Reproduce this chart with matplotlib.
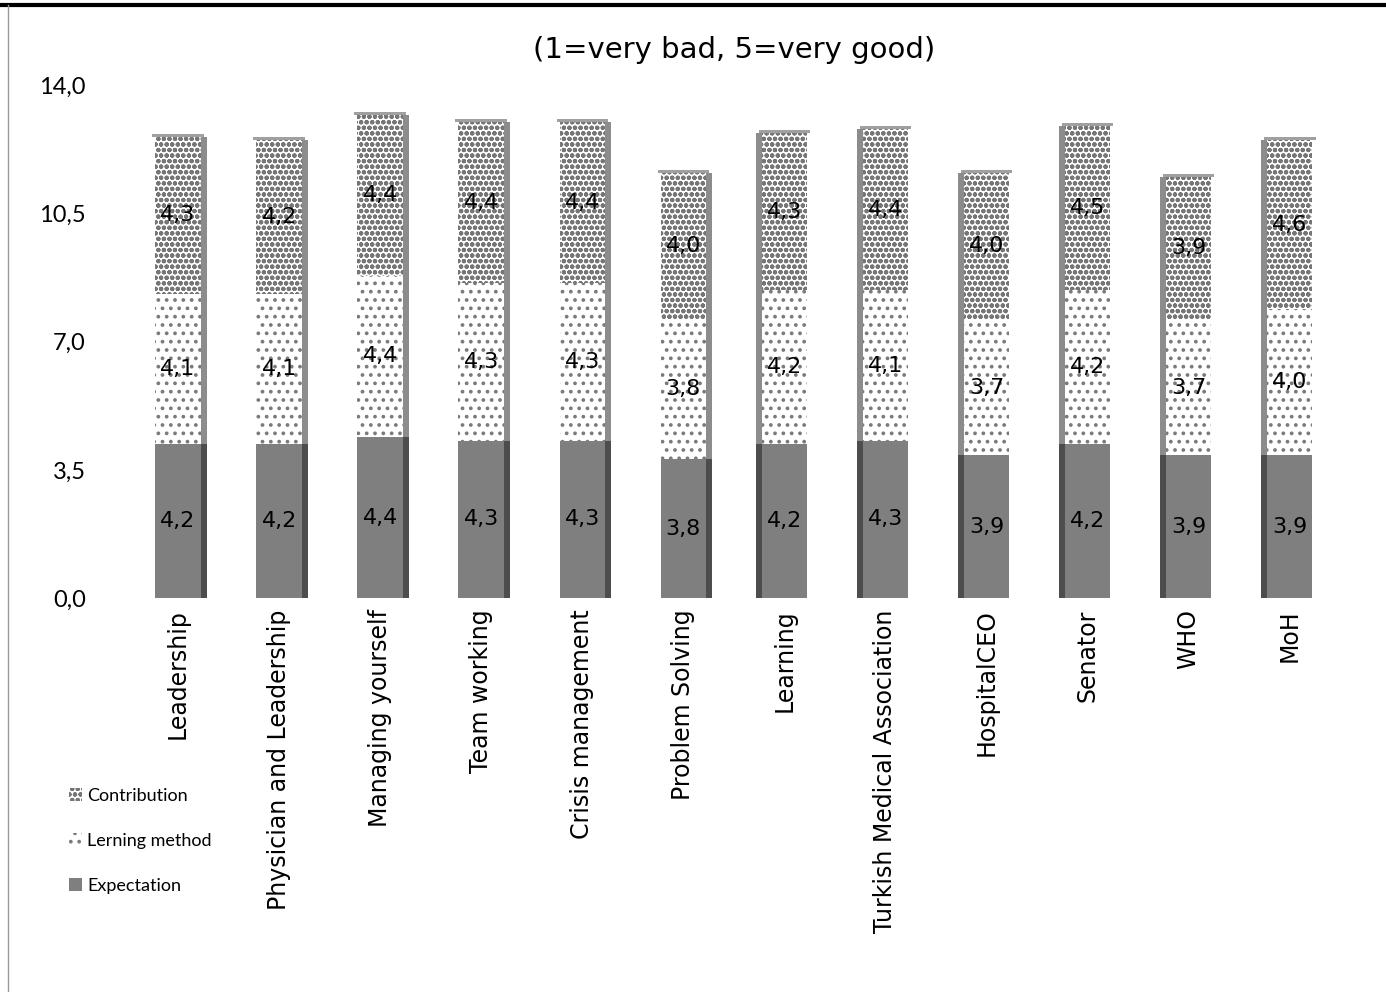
import numpy as np
import matplotlib
matplotlib.use("Agg")
import matplotlib.pyplot as plt
from matplotlib.patches import Patch
from matplotlib.lines import Line2D

categories = ["Leadership", "Physician and Leadership", "Managing yourself",
              "Team working", "Crisis management", "Problem Solving", "Learning",
              "Turkish Medical Association", "HospitalCEO", "Senator", "WHO", "MoH"]
expectation = [4.2, 4.2, 4.4, 4.3, 4.3, 3.8, 4.2, 4.3, 3.9, 4.2, 3.9, 3.9]
learning = [4.1, 4.1, 4.4, 4.3, 4.3, 3.8, 4.2, 4.1, 3.7, 4.2, 3.7, 4.0]
contribution = [4.3, 4.2, 4.4, 4.4, 4.4, 4.0, 4.3, 4.4, 4.0, 4.5, 3.9, 4.6]
yticks = [0.0, 3.5, 7.0, 10.5, 14.0]

plt.rcParams['hatch.linewidth'] = 1.5

fig = plt.figure(figsize=(13.86, 9.92), dpi=100)
ax = fig.add_axes([0.092, 0.397, 0.875, 0.517])

x = np.arange(len(categories))
exp = np.array(expectation)
lrn = np.array(learning)
con = np.array(contribution)
w = 0.45
side = 0.06

# darker side faces give the columns a bit of depth
side_x = np.where(x < 6, x + w / 2 + side / 2, x - w / 2 - side / 2)
ax.bar(side_x, exp, width=side, color="#4d4d4d", linewidth=0)
ax.bar(side_x, lrn + con, bottom=exp, width=side, color="#8c8c8c", linewidth=0)

ax.bar(x, exp, width=w, color="#7f7f7f", linewidth=0, label="Expectation")
ax.bar(x, lrn, bottom=exp, width=w, color="white", edgecolor="#7a7a7a",
       hatch="..", linewidth=0, label="Lerning method")
ax.bar(x, con, bottom=exp + lrn, width=w, color="white", edgecolor="#767676",
       hatch="ooo", linewidth=0, label="Contribution")
# thin cap on top of each column
ax.bar(x, 0.08, bottom=exp + lrn + con, width=w + side, color="#a0a0a0", linewidth=0)

def fmt(v):
    return f"{v:.1f}".replace(".", ",")

for i in range(len(x)):
    ax.text(x[i], exp[i] / 2, fmt(exp[i]), ha="center", va="center", fontsize=16)
    ax.text(x[i], exp[i] + lrn[i] / 2, fmt(lrn[i]), ha="center", va="center", fontsize=16)
    ax.text(x[i], exp[i] + lrn[i] + con[i] / 2, fmt(con[i]), ha="center", va="center", fontsize=16)

ax.set_xlim(-0.5, len(x) - 0.5)
ax.set_ylim(0, 14)
ax.set_yticks(yticks)
ax.set_yticklabels([fmt(v) for v in yticks], fontsize=17, family="Lato")
ax.set_xticks(x)
ax.set_xticklabels(categories, rotation=90, fontsize=17)
ax.tick_params(axis="both", length=0)
ax.tick_params(axis="y", pad=30)
ax.tick_params(axis="x", pad=8)
for s in ax.spines.values():
    s.set_visible(False)

ax.set_title("(1=very bad, 5=very good)", fontsize=21, pad=20)

handles = [Patch(facecolor="white", edgecolor="#767676", hatch="ooo", linewidth=0, label="Contribution"),
           Patch(facecolor="white", edgecolor="#7a7a7a", hatch="..", linewidth=0, label="Lerning method"),
           Patch(facecolor="#7f7f7f", linewidth=0, label="Expectation")]
fig.legend(handles=handles, loc="upper left", bbox_to_anchor=(0.038, 0.222),
           frameon=False, prop={"family": "Lato", "size": 13}, handlelength=0.7,
           handleheight=0.7, handletextpad=0.3, labelspacing=1.6)

# frame lines along the top and left edges
fig.add_artist(Line2D([0, 1], [0.995, 0.995], transform=fig.transFigure, color="black", linewidth=3))
fig.add_artist(Line2D([0.006, 0.006], [0, 0.995], transform=fig.transFigure, color="#999999", linewidth=1))

fig.savefig("out.png", dpi=100)
